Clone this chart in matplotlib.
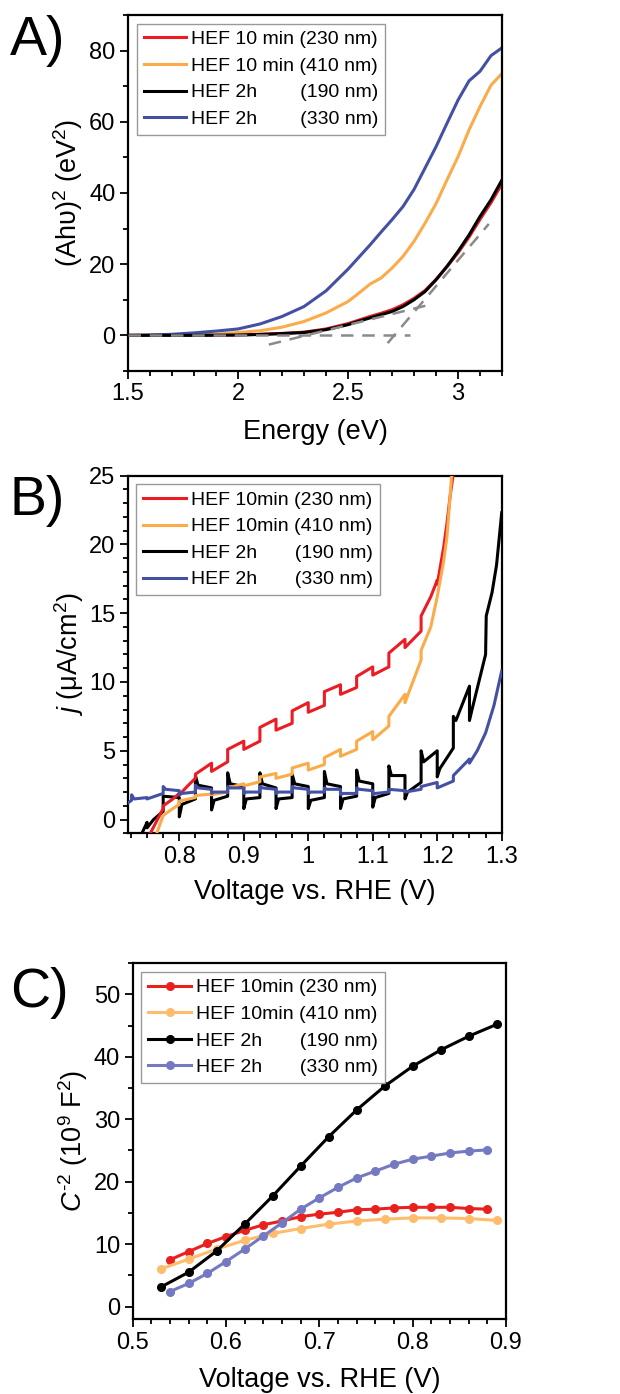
"""Three stacked panels: Tauc plot, chopped LSV, Mott-Schottky."""
import matplotlib
matplotlib.use("Agg")
import matplotlib.pyplot as plt  # noqa: E402
from matplotlib.ticker import FuncFormatter, MultipleLocator  # noqa: E402

plt.rcParams["font.family"] = ["Liberation Sans", "DejaVu Sans"]
plt.rcParams["mathtext.fontset"] = "custom"
plt.rcParams["mathtext.rm"] = "Liberation Sans"
plt.rcParams["mathtext.it"] = "Liberation Sans:italic"

RED, ORANGE, BLACK, BLUE = "#ec1c24", "#fbab4a", "#000000", "#4350a4"
RED_C, ORANGE_C, BLUE_C = "#e8211f", "#fdbd6c", "#7479c2"

# ---- A) Tauc plot
energy = [1.5, 1.6, 1.7, 1.8, 1.9, 2.0, 2.1, 2.2, 2.3, 2.4, 2.5, 2.55, 2.6, 2.65,
          2.7, 2.75, 2.8, 2.85, 2.9, 2.95, 3.0, 3.05, 3.1, 3.15, 3.2]
tauc_10min_230 = [0, 0, 0, 0, 0.05, 0.1, 0.3, 0.55, 0.9, 1.8, 3.3, 4.3, 5.3, 6.2,
                  7.2, 8.6, 10.4, 12.6, 15.7, 19.3, 23.2, 27.6, 32.6, 37.3, 42.6]
tauc_10min_410 = [0, 0, 0.05, 0.15, 0.3, 0.8, 1.3, 2.3, 3.9, 6.3, 9.5, 11.9, 14.4, 16.1,
                  18.9, 22.2, 26.4, 31.5, 37.0, 43.7, 50.2, 57.7, 64.3, 70.3, 73.6]
tauc_2h_190 = [0, 0, 0, 0, 0.05, 0.1, 0.25, 0.5, 0.8, 1.6, 3.0, 4.0, 4.9, 5.8,
               6.7, 8.1, 10.0, 12.3, 15.6, 19.4, 23.6, 28.2, 33.4, 38.1, 43.7]
tauc_2h_330 = [0, 0.1, 0.3, 0.7, 1.2, 1.8, 3.2, 5.3, 8.1, 12.5, 18.6, 22.0, 25.4, 29.0,
               32.5, 36.2, 41.0, 47.0, 53.0, 59.6, 66.1, 71.5, 74.2, 78.6, 80.8]
# extrapolation guide lines (x pair, y pair)
fit_base_x, fit_base_y = [1.5, 2.78], [0, 0]
fit_low_x, fit_low_y = [2.14, 2.89], [-2.6, 8.9]
fit_high_x, fit_high_y = [2.68, 3.14], [-2.2, 31.3]

# ---- B) chopped LSV
lsv_v_230 = [0.755, 0.765, 0.775, 0.775, 0.79, 0.80, 0.80, 0.812, 0.825, 0.825, 0.85, 0.85,
             0.875, 0.875, 0.90, 0.90, 0.925, 0.925, 0.95, 0.95, 0.975, 0.975, 1.00, 1.00,
             1.025, 1.025, 1.05, 1.05, 1.075, 1.075, 1.10, 1.10, 1.125, 1.125, 1.15, 1.15,
             1.175, 1.175, 1.19, 1.20, 1.20, 1.21, 1.215, 1.22, 1.226]
lsv_j_230 = [-1.0, -0.1, 0.8, 1.0, 1.5, 1.9, 1.8, 2.4, 3.0, 3.3, 4.1, 3.5,
             4.2, 5.1, 5.7, 5.1, 5.7, 6.7, 7.3, 6.5, 7.0, 7.9, 8.5, 7.8,
             8.3, 9.3, 9.8, 9.1, 9.6, 10.4, 11.1, 10.5, 11.1, 12.1, 13.1, 12.5,
             13.7, 14.8, 16.2, 17.4, 17.1, 19.8, 21.5, 23.5, 25.5]
lsv_v_410 = [0.765, 0.775, 0.79, 0.80, 0.80, 0.825, 0.825, 0.85, 0.85, 0.875, 0.875,
             0.90, 0.90, 0.925, 0.925, 0.95, 0.95, 0.975, 0.975, 1.00, 1.00, 1.025, 1.025,
             1.05, 1.05, 1.075, 1.075, 1.10, 1.10, 1.125, 1.125, 1.15, 1.15, 1.175, 1.175,
             1.19, 1.20, 1.21, 1.215, 1.22, 1.223]
lsv_j_410 = [-1.0, 0.3, 0.8, 1.1, 1.35, 1.6, 1.75, 1.85, 1.8, 2.0, 2.3,
             2.6, 2.45, 2.75, 3.1, 3.35, 3.0, 3.3, 3.75, 4.1, 3.6, 4.0, 4.5,
             5.1, 4.6, 5.1, 5.7, 6.4, 5.8, 6.8, 7.5, 9.1, 8.5, 11.6, 12.3,
             14.0, 16.2, 18.8, 20.5, 23.5, 25.5]
lsv_v_190 = [0.742, 0.75, 0.75, 0.76, 0.775, 0.775, 0.80, 0.80, 0.804, 0.825,
             0.825, 0.829, 0.85, 0.85, 0.854, 0.875,
             0.875, 0.879, 0.90, 0.90, 0.904, 0.925,
             0.925, 0.929, 0.95, 0.95, 0.954, 0.975,
             0.975, 0.979, 1.00, 1.00, 1.004, 1.025,
             1.025, 1.029, 1.05, 1.05, 1.054, 1.075,
             1.075, 1.079, 1.10, 1.10, 1.104, 1.125,
             1.125, 1.129, 1.15, 1.15, 1.154, 1.175,
             1.175, 1.179, 1.20, 1.20, 1.204, 1.225,
             1.225, 1.229, 1.25, 1.25, 1.254, 1.275,
             1.276, 1.285, 1.292, 1.30]
lsv_j_190 = [-1.0, -0.2, -0.6, 0.0, 0.6, 1.7, 1.6, 0.2, 1.1, 1.5,
             3.2, 2.5, 2.3, 0.7, 1.4, 1.7,
             3.4, 2.6, 2.4, 0.8, 1.5, 1.6,
             3.4, 2.6, 2.3, 0.8, 1.5, 1.6,
             3.3, 2.6, 2.4, 0.8, 1.4, 1.6,
             3.5, 2.6, 2.4, 0.8, 1.5, 1.7,
             3.6, 2.8, 2.6, 0.9, 1.6, 1.9,
             3.9, 3.2, 3.2, 1.5, 2.0, 2.7,
             5.0, 4.2, 5.0, 3.1, 3.7, 5.2,
             7.5, 7.2, 9.7, 7.2, 8.0, 12.0,
             14.8, 16.5, 18.5, 22.3]
lsv_v_330 = [0.72, 0.726, 0.726, 0.73, 0.75, 0.75, 0.775, 0.775, 0.779, 0.80, 0.80, 0.804,
             0.825, 0.825, 0.829, 0.85, 0.85, 0.854, 0.875, 0.875, 0.879, 0.90, 0.90, 0.904,
             0.925, 0.925, 0.929, 0.95, 0.95, 0.954, 0.975, 0.975, 0.979, 1.00, 1.00, 1.004,
             1.025, 1.025, 1.029, 1.05, 1.05, 1.054, 1.075, 1.075, 1.079, 1.10, 1.10, 1.104,
             1.125, 1.125, 1.15, 1.15, 1.175, 1.175, 1.20, 1.20, 1.225, 1.225, 1.25, 1.25,
             1.262, 1.275, 1.288, 1.30]
lsv_j_330 = [1.2, 1.4, 1.8, 1.5, 1.6, 1.5, 1.9, 2.4, 2.2, 2.1, 1.8, 1.9,
             2.0, 2.5, 2.3, 2.2, 1.9, 2.0, 2.0, 2.4, 2.3, 2.3, 1.9, 2.0,
             2.0, 2.4, 2.3, 2.2, 1.9, 2.0, 2.0, 2.4, 2.3, 2.2, 1.9, 2.0,
             2.0, 2.3, 2.2, 2.2, 1.8, 1.9, 1.9, 2.3, 2.2, 2.1, 1.8, 1.9,
             2.0, 2.2, 2.1, 2.0, 2.2, 2.4, 2.7, 2.3, 2.8, 3.2, 4.4, 4.1,
             5.0, 6.3, 8.3, 10.8]

# ---- C) Mott-Schottky
ms_v_odd = [0.54, 0.56, 0.58, 0.60, 0.62, 0.64, 0.66, 0.68, 0.70, 0.72, 0.74, 0.76,
            0.78, 0.80, 0.82, 0.84, 0.86, 0.88]
ms_v_3 = [0.53, 0.56, 0.59, 0.62, 0.65, 0.68, 0.71, 0.74, 0.77, 0.80, 0.83, 0.86, 0.89]
ms_10min_230 = [7.5, 8.8, 10.1, 11.2, 12.2, 13.1, 13.7, 14.4, 14.8, 15.1, 15.5, 15.6,
                15.8, 15.9, 15.9, 15.9, 15.7, 15.6]
ms_10min_410 = [6.0, 7.6, 9.2, 10.6, 11.7, 12.5, 13.2, 13.7, 14.0, 14.2, 14.2, 14.1, 13.8]
ms_2h_190 = [3.1, 5.5, 8.9, 13.2, 17.7, 22.5, 27.2, 31.5, 35.3, 38.5, 41.1, 43.3, 45.2]
ms_2h_330 = [2.4, 3.7, 5.3, 7.2, 9.2, 11.3, 13.4, 15.6, 17.4, 19.1, 20.6, 21.7,
             22.8, 23.6, 24.1, 24.6, 24.9, 25.1]

LABELS_A = ["HEF 10 min (230 nm)", "HEF 10 min (410 nm)",
            "HEF 2h        (190 nm)", "HEF 2h        (330 nm)"]
LABELS_BC = ["HEF 10min (230 nm)", "HEF 10min (410 nm)",
             "HEF 2h       (190 nm)", "HEF 2h       (330 nm)"]

fmt = FuncFormatter(lambda v, p: f"{v:g}")


def style(ax, xmaj, xmin, ymaj, ymin):
    for s in ax.spines.values():
        s.set_linewidth(1.6)
    ax.xaxis.set_major_locator(MultipleLocator(xmaj))
    ax.xaxis.set_minor_locator(MultipleLocator(xmin))
    ax.yaxis.set_major_locator(MultipleLocator(ymaj))
    ax.yaxis.set_minor_locator(MultipleLocator(ymin))
    ax.xaxis.set_major_formatter(fmt)
    ax.yaxis.set_major_formatter(fmt)
    ax.tick_params(which="both", direction="out", width=1.3, labelsize=17,
                   top=False, right=False, pad=3)
    ax.tick_params(which="major", length=6)
    ax.tick_params(which="minor", length=3.5)


def legend(ax, **kw):
    leg = ax.legend(loc="upper left", fontsize=14, frameon=True, fancybox=False,
                    edgecolor="#999999", framealpha=1, borderpad=0.35,
                    labelspacing=0.46, handlelength=2.2, handletextpad=0.25,
                    borderaxespad=0.45, **kw)
    leg.get_frame().set_linewidth(1.0)


fig = plt.figure(figsize=(6.2, 13.94), dpi=100)

# A
ax = fig.add_axes([0.2065, 0.7339, 0.6032, 0.2553])
lw = 2.2
ax.plot(energy, tauc_10min_230, color=RED, lw=lw, label=LABELS_A[0], zorder=2)
ax.plot(energy, tauc_10min_410, color=ORANGE, lw=lw, label=LABELS_A[1], zorder=2)
ax.plot(energy, tauc_2h_190, color=BLACK, lw=lw, label=LABELS_A[2], zorder=3)
ax.plot(energy, tauc_2h_330, color=BLUE, lw=lw, label=LABELS_A[3], zorder=2)
for fx, fy in [(fit_base_x, fit_base_y), (fit_low_x, fit_low_y), (fit_high_x, fit_high_y)]:
    ax.plot(fx, fy, color="#8a8a8a", lw=1.8, ls=(0, (5, 3.5)), zorder=4)
ax.set_xlim(1.5, 3.2)
ax.set_ylim(-10, 90)
style(ax, 0.5, 0.1, 20, 10)
ax.set_xlabel("Energy (eV)", fontsize=19.5, labelpad=10)
ax.set_ylabel("(Ahυ)$^2$ (eV$^2$)", fontsize=19.5)
ax.yaxis.set_label_coords(-0.115, 0.5)
legend(ax)
fig.text(0.016, 0.989, "A)", fontsize=40, va="top", ha="left")

# B
ax = fig.add_axes([0.206, 0.4022, 0.6032, 0.2566])
ax.plot(lsv_v_230, lsv_j_230, color=RED, lw=lw, label=LABELS_BC[0], zorder=3)
ax.plot(lsv_v_410, lsv_j_410, color=ORANGE, lw=lw, label=LABELS_BC[1], zorder=3)
ax.plot(lsv_v_190, lsv_j_190, color=BLACK, lw=lw, label=LABELS_BC[2], zorder=2)
ax.plot(lsv_v_330, lsv_j_330, color=BLUE, lw=lw, label=LABELS_BC[3], zorder=4)
ax.set_xlim(0.72, 1.3)
ax.set_ylim(-1, 25)
style(ax, 0.1, 0.025, 5, 1)
ax.set_xlabel("Voltage vs. RHE (V)", fontsize=19.5, labelpad=8)
ax.set_ylabel("$j$ (μA/cm$^2$)", fontsize=19.5)
ax.yaxis.set_label_coords(-0.112, 0.5)
legend(ax)
fig.text(0.016, 0.659, "B)", fontsize=40, va="top", ha="left")

# C
ax = fig.add_axes([0.214, 0.0538, 0.6021, 0.2552])
mk = dict(marker="o", ms=5.5, lw=2.2)
ax.plot(ms_v_odd, ms_10min_230, color=RED_C, label=LABELS_BC[0], **mk)
ax.plot(ms_v_3, ms_10min_410, color=ORANGE_C, label=LABELS_BC[1], **mk)
ax.plot(ms_v_3, ms_2h_190, color=BLACK, label=LABELS_BC[2], **mk)
ax.plot(ms_v_odd, ms_2h_330, color=BLUE_C, label=LABELS_BC[3], **mk)
ax.set_xlim(0.5, 0.9)
ax.set_ylim(-2, 55)
style(ax, 0.1, 0.02, 10, 5)
ax.set_xlabel("Voltage vs. RHE (V)", fontsize=19.5, labelpad=10)
ax.set_ylabel("$C^{‐2}$ (10$^9$ F$^2$)", fontsize=19.5)
ax.yaxis.set_label_coords(-0.115, 0.5)
legend(ax, numpoints=1)
fig.text(0.016, 0.306, "C)", fontsize=40, va="top", ha="left")

fig.savefig("out.png", dpi=100)
plt.close(fig)
